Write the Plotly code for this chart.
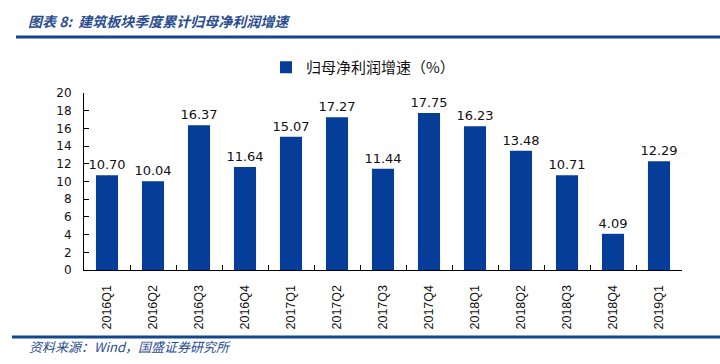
import plotly.graph_objects as go

categories = ["2016Q1", "2016Q2", "2016Q3", "2016Q4", "2017Q1", "2017Q2", "2017Q3",
              "2017Q4", "2018Q1", "2018Q2", "2018Q3", "2018Q4", "2019Q1"]
growth = [10.70, 10.04, 16.37, 11.64, 15.07, 17.27, 11.44, 17.75, 16.23, 13.48, 10.71, 4.09, 12.29]
series_name = "归母净利润增速（%）"
title_text = "图表 8:  建筑板块季度累计归母净利润增速"
source_text = "资料来源：Wind，国盛证券研究所"
y_ticks = list(range(0, 21, 2))

W, H = 720, 364
L, R, T, B = 84, 38, 93, 94
pw, ph = W - L - R, H - T - B

def px_x(x):
    return (x - L) / pw

def px_y(y):
    return (H - B - y) / ph

BAR = "#063d98"
LINE = "#12468f"
TXT = "#2a4d8f"

fig = go.Figure()
fig.add_trace(go.Bar(
    x=categories, y=growth, name=series_name,
    marker=dict(color=BAR, line=dict(width=0)),
    text=[f"{v:.2f}" for v in growth], textposition="outside",
    constraintext="none",
    textfont=dict(family="DejaVu Sans", size=13, color="#111111"),
    cliponaxis=False,
))

fig.update_layout(
    width=W, height=H,
    margin=dict(l=L, r=R, t=T, b=B, autoexpand=False),
    paper_bgcolor="white", plot_bgcolor="white",
    bargap=0.52,
    showlegend=True,
    legend=dict(x=px_x(266), y=px_y(51), xanchor="left", yanchor="top",
                orientation="h", bgcolor="rgba(0,0,0,0)",
                font=dict(family="Noto Sans CJK SC", size=15, color="#111111"),
                itemwidth=30, tracegroupgap=0),
    xaxis=dict(
        type="category", showline=True, linecolor="black", linewidth=1,
        ticks="inside", tickson="boundaries", ticklen=5, tickcolor="black",
        tickangle=-90, ticklabelstandoff=9,
        tickfont=dict(family="Liberation Sans", size=12.5, color="#111111"),
        showgrid=False, zeroline=False, fixedrange=True,
    ),
    yaxis=dict(
        range=[0, 20], tickvals=y_ticks, showline=True, linecolor="black", linewidth=1,
        ticks="inside", ticklen=5, tickcolor="black", ticklabelstandoff=9,
        tickfont=dict(family="DejaVu Sans", size=12, color="#111111"),
        showgrid=False, zeroline=False, fixedrange=True,
    ),
    shapes=[
        dict(type="line", xref="paper", yref="paper", x0=px_x(16), x1=px_x(720),
             y0=px_y(37), y1=px_y(37), line=dict(color=LINE, width=3)),
        dict(type="line", xref="paper", yref="paper", x0=px_x(12), x1=px_x(720),
             y0=px_y(337), y1=px_y(337), line=dict(color=LINE, width=3)),
    ],
    annotations=[
        dict(text=f"<b><i>{title_text}</i></b>", xref="paper", yref="paper",
             x=px_x(26), y=px_y(21), xanchor="left", yanchor="middle", showarrow=False,
             font=dict(family="Noto Sans CJK SC", size=14, color=TXT)),
        dict(text=f"<i>{source_text}</i>", xref="paper", yref="paper",
             x=px_x(27), y=px_y(346), xanchor="left", yanchor="middle", showarrow=False,
             font=dict(family="Noto Sans CJK SC", size=13, color=TXT)),
    ],
)

fig.write_html("out.html", post_script="document.body.style.margin='0px';",
               config={"displayModeBar": False})
